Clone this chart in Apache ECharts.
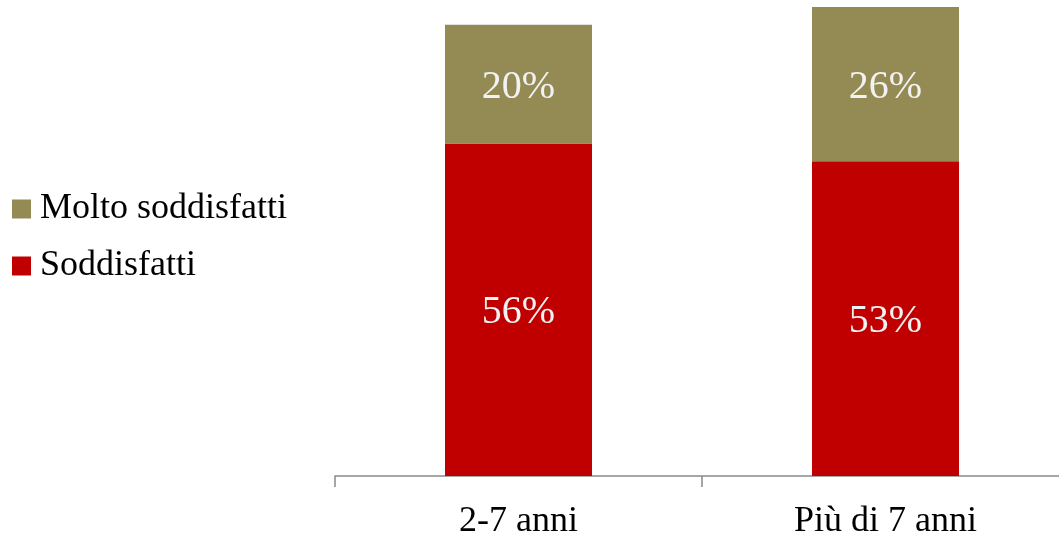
<!DOCTYPE html>
<html>
<head>
<meta charset="utf-8">
<script src="https://cdn.jsdelivr.net/npm/echarts@6/dist/echarts.min.js"></script>
<style>
  html, body { margin: 0; padding: 0; background: #ffffff; }
  #chart { width: 1059px; height: 537px; }
</style>
</head>
<body>
<div id="chart"></div>
<script>
// Satisfaction by seniority (percent)
const categories = ['2-7 anni', 'Più di 7 anni'];
const soddisfatti = [56, 53];
const moltoSoddisfatti = [20, 26];
const legendOrder = ['Molto soddisfatti', 'Soddisfatti'];

const FONT = '"Liberation Serif", "Times New Roman", serif';

const chart = echarts.init(document.getElementById('chart'), null, { renderer: 'canvas' });

const valueLabel = {
  show: true,
  position: 'inside',
  offset: [0, 3],
  formatter: p => p.value + '%',
  color: '#f2f2f2',
  fontFamily: FONT,
  fontSize: 40
};

chart.setOption({
  animation: false,
  backgroundColor: '#ffffff',
  legend: {
    orient: 'vertical',
    left: 12,
    top: 191,
    padding: 0,
    itemWidth: 19,
    itemHeight: 19,
    itemGap: 21,
    icon: 'rect',
    data: legendOrder,
    textStyle: {
      fontFamily: FONT,
      fontSize: 36,
      color: '#000000',
      padding: [0, 0, 0, 4]
    }
  },
  grid: {
    left: 335,
    top: 1,
    width: 734,
    height: 475,
    containLabel: false,
    outerBoundsMode: 'none'
  },
  xAxis: {
    type: 'category',
    data: categories,
    boundaryGap: true,
    axisLine: { show: true, lineStyle: { color: '#898989', width: 1.5 } },
    axisTick: { show: true, length: 11, lineStyle: { color: '#898989', width: 1.5 } },
    axisLabel: {
      margin: 28,
      fontFamily: FONT,
      fontSize: 36,
      color: '#000000'
    }
  },
  yAxis: {
    type: 'value',
    min: 0,
    max: 80,
    show: false,
    splitLine: { show: false }
  },
  series: [
    {
      name: 'Soddisfatti',
      type: 'bar',
      stack: 'totale',
      barWidth: 147,
      data: soddisfatti,
      itemStyle: { color: '#c00000' },
      label: valueLabel
    },
    {
      name: 'Molto soddisfatti',
      type: 'bar',
      stack: 'totale',
      barWidth: 147,
      data: moltoSoddisfatti,
      itemStyle: { color: '#948a54' },
      label: valueLabel
    }
  ]
});
</script>
</body>
</html>
